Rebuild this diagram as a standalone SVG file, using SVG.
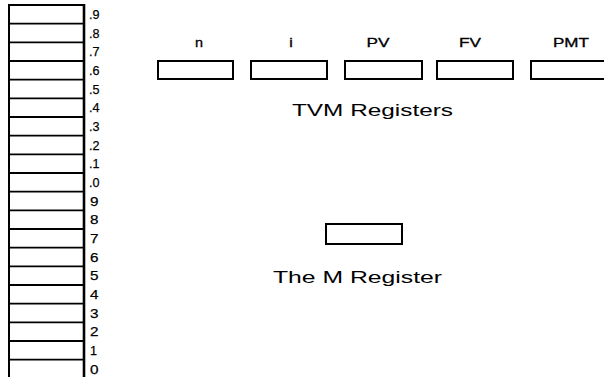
<svg xmlns="http://www.w3.org/2000/svg" width="604" height="377" viewBox="0 0 604 377">
  <style>
    .bg { fill: #ffffff; }
    .reg { fill: #ffffff; stroke: #000000; stroke-width: 2; }
    .div { stroke: #000000; stroke-width: 1.8; }
    .lbl { font-family: "Liberation Sans", Arial, sans-serif; fill: #000000; }
    .dig { font-size: 13.5px; stroke: #000000; stroke-width: 0.25; }
    .key { font-size: 13px; text-anchor: middle; stroke: #000000; stroke-width: 0.3; }
    .cap { font-size: 17px; }
  </style>
  <rect class="bg" x="0" y="0" width="604" height="377"/>

  <!-- storage register stack: .9 ... .0, 9 ... 0 -->
  <g id="stack">
    <rect class="reg" x="9" y="5" width="75" height="380"/>
    <line class="div" x1="84" y1="4" x2="84" y2="377" style="stroke-width:2.6"/>
    <g>
      <line class="div" x1="9" y1="23.7" x2="84" y2="23.7"/>
      <line class="div" x1="9" y1="42.3" x2="84" y2="42.3"/>
      <line class="div" x1="9" y1="61" x2="84" y2="61"/>
      <line class="div" x1="9" y1="79.7" x2="84" y2="79.7"/>
      <line class="div" x1="9" y1="98.3" x2="84" y2="98.3"/>
      <line class="div" x1="9" y1="117" x2="84" y2="117"/>
      <line class="div" x1="9" y1="135.7" x2="84" y2="135.7"/>
      <line class="div" x1="9" y1="154.3" x2="84" y2="154.3"/>
      <line class="div" x1="9" y1="173" x2="84" y2="173"/>
      <line class="div" x1="9" y1="191.7" x2="84" y2="191.7"/>
      <line class="div" x1="9" y1="210.3" x2="84" y2="210.3"/>
      <line class="div" x1="9" y1="229" x2="84" y2="229"/>
      <line class="div" x1="9" y1="247.7" x2="84" y2="247.7"/>
      <line class="div" x1="9" y1="266.3" x2="84" y2="266.3"/>
      <line class="div" x1="9" y1="285" x2="84" y2="285"/>
      <line class="div" x1="9" y1="303.7" x2="84" y2="303.7"/>
      <line class="div" x1="9" y1="322.3" x2="84" y2="322.3"/>
      <line class="div" x1="9" y1="341" x2="84" y2="341"/>
      <line class="div" x1="9" y1="359.7" x2="84" y2="359.7"/>
    </g>
    <g class="lbl dig">
      <text x="89" y="19" textLength="10.5" lengthAdjust="spacingAndGlyphs">.9</text>
      <text x="89" y="37.7" textLength="10.5" lengthAdjust="spacingAndGlyphs">.8</text>
      <text x="89" y="56.3" textLength="10.5" lengthAdjust="spacingAndGlyphs">.7</text>
      <text x="89" y="75" textLength="10.5" lengthAdjust="spacingAndGlyphs">.6</text>
      <text x="89" y="93.7" textLength="10.5" lengthAdjust="spacingAndGlyphs">.5</text>
      <text x="89" y="112.3" textLength="10.5" lengthAdjust="spacingAndGlyphs">.4</text>
      <text x="89" y="131" textLength="10.5" lengthAdjust="spacingAndGlyphs">.3</text>
      <text x="89" y="149.7" textLength="10.5" lengthAdjust="spacingAndGlyphs">.2</text>
      <text x="89" y="168.3" textLength="10.5" lengthAdjust="spacingAndGlyphs">.1</text>
      <text x="89" y="187" textLength="10.5" lengthAdjust="spacingAndGlyphs">.0</text>
      <text x="90" y="205.7" textLength="8.5" lengthAdjust="spacingAndGlyphs">9</text>
      <text x="90" y="224.3" textLength="8.5" lengthAdjust="spacingAndGlyphs">8</text>
      <text x="90" y="243" textLength="8.5" lengthAdjust="spacingAndGlyphs">7</text>
      <text x="90" y="261.7" textLength="8.5" lengthAdjust="spacingAndGlyphs">6</text>
      <text x="90" y="280.3" textLength="8.5" lengthAdjust="spacingAndGlyphs">5</text>
      <text x="90" y="299" textLength="8.5" lengthAdjust="spacingAndGlyphs">4</text>
      <text x="90" y="317.7" textLength="8.5" lengthAdjust="spacingAndGlyphs">3</text>
      <text x="90" y="336.3" textLength="8.5" lengthAdjust="spacingAndGlyphs">2</text>
      <text x="90" y="355" textLength="7" lengthAdjust="spacingAndGlyphs">1</text>
      <text x="90" y="373.7" textLength="8.5" lengthAdjust="spacingAndGlyphs">0</text>
    </g>
  </g>

  <!-- financial (TVM) registers -->
  <g id="reg-n">
    <rect class="reg" x="158" y="61" width="75" height="18"/>
    <text class="lbl key" x="199" y="47" textLength="8" lengthAdjust="spacingAndGlyphs">n</text>
  </g>
  <g id="reg-i">
    <rect class="reg" x="251" y="61" width="76" height="18"/>
    <text class="lbl key" x="291" y="47" textLength="3.5" lengthAdjust="spacingAndGlyphs">i</text>
  </g>
  <g id="reg-pv">
    <rect class="reg" x="345" y="61" width="77" height="18"/>
    <text class="lbl key" x="378" y="47" textLength="23" lengthAdjust="spacingAndGlyphs">PV</text>
  </g>
  <g id="reg-fv">
    <rect class="reg" x="437" y="61" width="76" height="18"/>
    <text class="lbl key" x="470" y="47" textLength="22" lengthAdjust="spacingAndGlyphs">FV</text>
  </g>
  <g id="reg-pmt">
    <rect class="reg" x="531" y="61" width="80" height="18"/>
    <text class="lbl key" x="571" y="47" textLength="36" lengthAdjust="spacingAndGlyphs">PMT</text>
  </g>
  <text id="tvm-caption" class="lbl cap" x="292" y="116" textLength="161" lengthAdjust="spacingAndGlyphs">TVM Registers</text>

  <!-- memory register -->
  <g id="reg-m">
    <rect class="reg" x="326" y="224" width="76" height="20"/>
    <text class="lbl cap" x="273" y="283" textLength="169" lengthAdjust="spacingAndGlyphs">The M Register</text>
  </g>

  <g id="connectors"/>
</svg>
